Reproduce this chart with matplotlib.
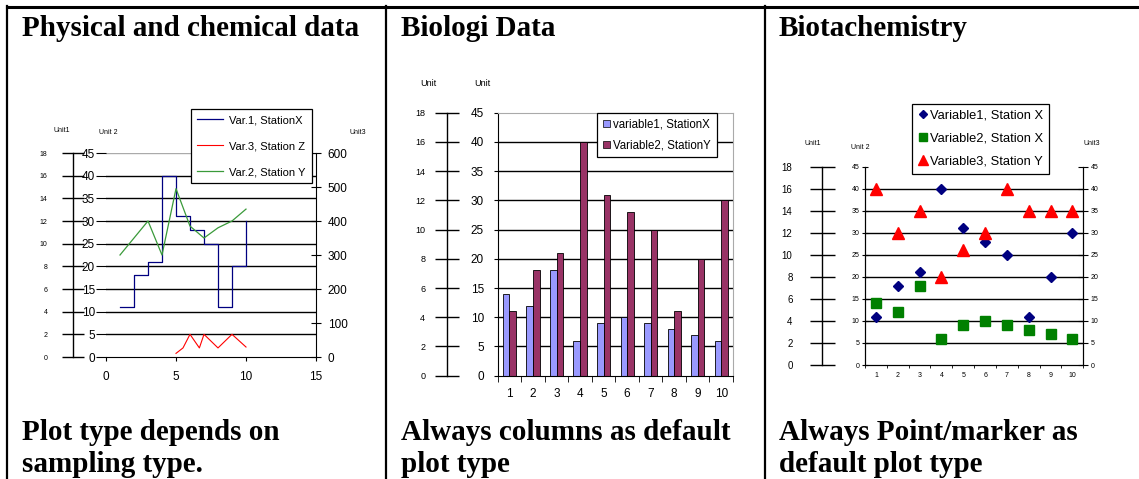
import numpy as np
import matplotlib
matplotlib.use("Agg")
import matplotlib.pyplot as plt
from matplotlib.lines import Line2D
from matplotlib.patches import Patch

plt.rcParams['font.family'] = ['Liberation Sans', 'DejaVu Sans']

# ---- data ----
phys_x = [1, 2, 3, 4, 5, 6, 7, 8, 9, 10]
phys_var1_stationx = [11, 18, 21, 40, 31, 28, 25, 11, 20, 30]        # Unit 2
phys_var2_stationy = [300, 350, 400, 300, 495, 385, 350, 380, 400, 435]  # Unit3
phys_var3_x = [5, 5.5, 6, 6.67, 7, 8, 9, 10]
phys_var3_stationz = [0.8, 2, 5, 2, 5, 2, 5, 2.2]                    # Unit 2

bio_cats = ['1', '2', '3', '4', '5', '6', '7', '8', '9', '10']
bio_variable1_x = [14, 12, 18, 6, 9, 10, 9, 8, 7, 6]
bio_variable2_y = [11, 18, 21, 40, 31, 28, 25, 11, 20, 30]

biota_cats = ['1', '2', '3', '4', '5', '6', '7', '8', '9', '10']
biota_variable1_x = [11, 18, 21, 40, 31, 28, 25, 11, 20, 30]
biota_variable2_x = [14, 12, 18, 6, 9, 10, 9, 8, 7, 6]
biota_variable3_y = [40, 30, 35, 20, 26, 30, 40, 35, 35, 35]

titles = ['Physical and chemical data', 'Biologi Data', 'Biotachemistry']
notes = [['Plot type depends on', 'sampling type.'],
         ['Always columns as default', 'plot type'],
         ['Always Point/marker as', 'default plot type']]

W, H = 1139, 479
fig = plt.figure(figsize=(W / 100, H / 100), dpi=100)


def rect(l, t, r, b):
    return [l / W, 1 - b / H, (r - l) / W, (b - t) / H]


def fx(x):
    return x / W


def fy(y):
    return 1 - y / H


def unit_axis(x, top, bottom, ymax, step, ticklen, pad, fs):
    a = fig.add_axes(rect(x, top, x + 1, bottom))
    a.patch.set_visible(False)
    for s in ['top', 'right', 'bottom']:
        a.spines[s].set_visible(False)
    a.spines['left'].set_linewidth(1)
    a.set_ylim(0, ymax)
    a.set_yticks(np.arange(0, ymax + 1, step))
    a.set_xticks([])
    a.tick_params(axis='y', direction='inout', length=ticklen, pad=pad,
                  labelsize=fs, width=1)
    return a


def hgrid(a, levels, color='black'):
    for v in levels:
        a.axhline(v, color=color, lw=1, zorder=0.5)


# ---- table frame ----
serif = ['Liberation Serif', 'DejaVu Serif']
fig.add_artist(Line2D([fx(7), 1], [fy(6.5), fy(6.5)], color='black', lw=2.2))
for xl in [7, 386, 765]:
    fig.add_artist(Line2D([fx(xl), fx(xl)], [fy(6), 0], color='black', lw=1.6))

for xl, t, nt in zip([22, 401, 779], titles, notes):
    fig.text(fx(xl), fy(28), t, family=serif, weight='bold', fontsize=21,
             va='center', ha='left')
    fig.text(fx(xl), fy(433), nt[0], family=serif, weight='bold', fontsize=21,
             va='center', ha='left')
    fig.text(fx(xl), fy(465), nt[1], family=serif, weight='bold', fontsize=21,
             va='center', ha='left')

# ---- panel 1: physical and chemical (lines) ----
ax1 = fig.add_axes(rect(106, 153, 316, 357))
ax1.set_xlim(0, 15)
ax1.set_ylim(0, 45)
for s in ['top', 'right', 'left']:
    ax1.spines[s].set_visible(False)
hgrid(ax1, range(5, 45, 5))
ax1.axhline(45, color='#aaaaaa', lw=1, zorder=0.5)
ax1.set_yticks(range(0, 46, 5))
ax1.set_xticks([0, 5, 10, 15])
ax1.tick_params(axis='y', direction='out', length=7, pad=1, labelsize=8.5)
ax1.tick_params(axis='x', direction='out', length=3, pad=7, labelsize=8.5)
l_v1, = ax1.plot(phys_x, phys_var1_stationx, drawstyle='steps-post',
                 color='#000080', lw=0.9)
l_v3, = ax1.plot(phys_var3_x, phys_var3_stationz, color='#ff0000', lw=0.8)
ax1r = ax1.twinx()
for s in ['top', 'left', 'bottom']:
    ax1r.spines[s].set_visible(False)
ax1r.set_ylim(0, 600)
ax1r.set_yticks(range(0, 601, 100))
ax1r.tick_params(axis='y', direction='inout', length=7, pad=5, labelsize=8.5)
l_v2, = ax1r.plot(phys_x, phys_var2_stationy, color='#3a9a3a', lw=0.9)
unit_axis(72.7, 153, 357, 18, 2, 16, 10, 5)
fig.text(fx(62), fy(130), 'Unit1', fontsize=5, ha='center', va='center')
fig.text(fx(108), fy(133), 'Unit 2', fontsize=5, ha='center', va='center')
fig.text(fx(358), fy(132), 'Unit3', fontsize=5, ha='center', va='center')
leg1 = fig.legend([l_v1, l_v3, l_v2],
                  ['Var.1, StationX', 'Var.3, Station Z', 'Var.2, Station Y'],
                  loc='upper left', bbox_to_anchor=(fx(191), fy(109)),
                  bbox_transform=fig.transFigure, fontsize=8, frameon=True,
                  fancybox=False, edgecolor='black', framealpha=1,
                  handlelength=2.3, labelspacing=1.45, borderpad=0.55,
                  handletextpad=0.6, borderaxespad=0)
leg1.get_frame().set_linewidth(0.9)

# ---- panel 2: biologi (columns) ----
ax2 = fig.add_axes(rect(497.7, 112.7, 733, 375.7))
pos = np.arange(1, len(bio_cats) + 1)
ax2.set_xlim(0.5, len(bio_cats) + 0.5)
ax2.set_ylim(0, 45)
hgrid(ax2, range(5, 45, 5))
ax2.spines['top'].set_color('#aaaaaa')
ax2.spines['right'].set_color('#aaaaaa')
ax2.bar(pos - 0.14, bio_variable1_x, width=0.28, color='#9999ff',
        edgecolor='black', lw=0.6, zorder=2)
ax2.bar(pos + 0.14, bio_variable2_y, width=0.28, color='#993366',
        edgecolor='black', lw=0.6, zorder=2)
ax2.set_yticks(range(0, 46, 5))
ax2.set_xticks(pos)
ax2.set_xticklabels(bio_cats)
ax2.set_xticks(np.arange(0.5, len(bio_cats) + 1), minor=True)
ax2.tick_params(axis='x', which='major', length=0, pad=9, labelsize=8.5)
ax2.tick_params(axis='x', which='minor', direction='out', length=4)
ax2.tick_params(axis='y', direction='out', length=3, pad=7, labelsize=8.5)
unit_axis(446.7, 112.7, 375.7, 18, 2, 17, 7, 6.5)
fig.text(fx(428), fy(84), 'Unit', fontsize=6.5, ha='center', va='center')
fig.text(fx(482), fy(84), 'Unit', fontsize=6.5, ha='center', va='center')
leg2 = fig.legend([Patch(facecolor='#9999ff', edgecolor='black', lw=0.5),
                   Patch(facecolor='#993366', edgecolor='black', lw=0.5)],
                  ['variable1, StationX', 'Variable2, StationY'],
                  loc='upper left', bbox_to_anchor=(fx(597), fy(113)),
                  bbox_transform=fig.transFigure, fontsize=8.3, frameon=True,
                  fancybox=False, edgecolor='black', framealpha=1,
                  handlelength=0.6, handleheight=0.6, labelspacing=0.75,
                  borderpad=0.5, handletextpad=0.3, borderaxespad=0)
leg2.get_frame().set_linewidth(0.9)

# ---- panel 3: biotachemistry (markers) ----
ax3 = fig.add_axes(rect(865, 166.7, 1083.3, 365))
pos3 = np.arange(1, len(biota_cats) + 1)
ax3.set_xlim(0.5, len(biota_cats) + 0.5)
ax3.set_ylim(0, 45)
ax3.spines['top'].set_visible(False)
hgrid(ax3, range(5, 45, 5))
ax3.set_yticks(range(0, 46, 5))
ax3.set_xticks(pos3)
ax3.set_xticklabels(biota_cats)
ax3.set_xticks(np.arange(0.5, len(biota_cats) + 1), minor=True)
ax3.tick_params(axis='x', which='major', length=0, pad=5, labelsize=5)
ax3.tick_params(axis='x', which='minor', direction='out', length=2.5)
ax3.tick_params(axis='y', direction='inout', length=4, pad=2, labelsize=5)
m1, = ax3.plot(pos3, biota_variable1_x, ls='none', marker='D', ms=5,
               color='#000080', zorder=3)
m2, = ax3.plot(pos3, biota_variable2_x, ls='none', marker='s', ms=6.5,
               color='#008000', zorder=3)
m3, = ax3.plot(pos3, biota_variable3_y, ls='none', marker='^', ms=8,
               color='#ff0000', zorder=3)
ax3r = ax3.twinx()
ax3r.spines['top'].set_visible(False)
ax3r.set_ylim(0, 45)
ax3r.set_yticks(range(0, 46, 5))
ax3r.tick_params(axis='y', direction='inout', length=7, pad=2, labelsize=5)
unit_axis(821.7, 166.7, 365, 18, 2, 18, 12, 7)
fig.text(fx(812.7), fy(143.3), 'Unit1', fontsize=5, ha='center', va='center')
fig.text(fx(860.7), fy(147.3), 'Unit 2', fontsize=5, ha='center', va='center')
fig.text(fx(1091.7), fy(143.3), 'Unit3', fontsize=5, ha='center', va='center')
leg3 = fig.legend([m1, m2, m3],
                  ['Variable1, Station X', 'Variable2, Station X',
                   'Variable3, Station Y'],
                  loc='upper left', bbox_to_anchor=(fx(911.7), fy(104)),
                  bbox_transform=fig.transFigure, fontsize=9.3, frameon=True,
                  fancybox=False, edgecolor='black', framealpha=1,
                  handlelength=0.8, labelspacing=0.85, borderpad=0.45,
                  handletextpad=0.2, borderaxespad=0, markerscale=0.85)
leg3.get_frame().set_linewidth(0.9)

fig.savefig('out.png', dpi=100)
